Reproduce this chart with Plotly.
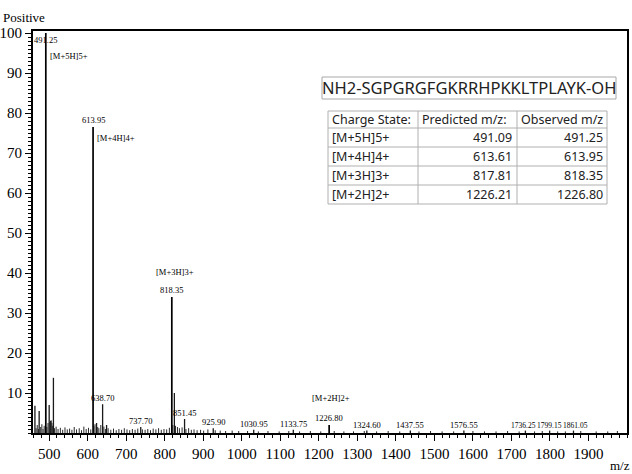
import plotly.graph_objects as go

# ---------------- data ----------------
main_mz = [491.25, 613.95, 818.35, 1226.80]
main_int = [100.0, 76.5, 34.0, 2.0]
ion_names = ["[M+5H]5+", "[M+4H]4+", "[M+3H]3+", "[M+2H]2+"]

minor_mz = [463, 474, 500, 504, 511, 623, 638.70, 649, 737.70, 825, 851.45,
            925.90, 1030.95, 1133.75, 1324.60, 1437.55, 1576.55, 1736.25,
            1799.15, 1861.05]
minor_int = [6.8, 5.5, 7.0, 3.0, 13.8, 2.5, 7.2, 2.0, 1.5, 10.0, 3.5,
             1.2, 0.8, 0.8, 0.6, 0.6, 0.6, 0.6, 0.6, 0.6]
labeled_minor = [638.70, 737.70, 851.45, 925.90, 1030.95, 1133.75, 1324.60,
                 1437.55, 1576.55, 1736.25, 1799.15, 1861.05]

noise_mz = [466, 469, 472, 478, 481, 484, 487, 494, 497, 502,
            505, 507, 509, 514, 518, 523, 529, 535, 541, 547,
            553, 559, 565, 571, 578, 584, 590, 596, 602, 608,
            616, 619, 626, 629, 634, 642, 646, 653, 660, 667,
            674, 681, 688, 695, 702, 709, 716, 723, 730, 742,
            749, 756, 763, 770, 777, 784, 791, 798, 805, 812,
            821, 828, 833, 838, 845, 855, 862, 869, 876, 884,
            893, 901, 912, 931, 944, 958, 975, 992, 1015, 1043,
            1068, 1097, 1122, 1150, 1178, 1205, 1240, 1265, 1290, 1318,
            1350, 1380, 1410, 1460, 1490, 1520, 1550, 1600, 1630, 1660,
            1690, 1720, 1760, 1780, 1820, 1840, 1880, 1920, 1950, 1975]
noise_int = [1.2, 2.0, 1.0, 1.5, 2.2, 1.0, 1.8, 1.5, 2.5, 2.8,
             3.2, 2.5, 1.8, 1.2, 1.6, 1.0, 1.3, 0.8, 1.4, 0.9,
             1.1, 0.8, 1.5, 0.9, 1.2, 0.7, 1.6, 1.0, 1.3, 0.9,
             1.8, 2.2, 1.5, 1.2, 2.0, 1.6, 1.0, 1.2, 0.8, 1.1,
             0.7, 1.0, 0.8, 1.2, 0.9, 0.7, 1.0, 0.8, 1.1, 0.9,
             0.8, 1.0, 0.7, 1.1, 0.9, 1.2, 0.8, 1.0, 0.9, 1.3,
             2.0, 1.8, 1.5, 1.2, 1.4, 1.0, 1.2, 0.8, 0.9, 0.7,
             0.8, 0.6, 0.9, 0.7, 0.6, 0.5, 0.6, 0.5, 0.5, 0.4,
             0.5, 0.4, 0.5, 0.4, 0.5, 0.4, 0.5, 0.4, 0.4, 0.5,
             0.4, 0.5, 0.4, 0.4, 0.5, 0.4, 0.4, 0.5, 0.4, 0.4,
             0.5, 0.4, 0.4, 0.5, 0.4, 0.4, 0.5, 0.4, 0.4, 0.5]

x_ticks = list(range(500, 2000, 100))
y_ticks = list(range(10, 101, 10))

sequence = "NH2-SGPGRGFGKRRHPKKLTPLAYK-OH"
table_header = ["Charge State:", "Predicted m/z:", "Observed m/z"]
predicted_mz = ["491.09", "613.61", "817.81", "1226.21"]
observed_mz = ["491.25", "613.95", "818.35", "1226.80"]

# ---------------- layout constants ----------------
W, H = 632, 474
ML, MR, MT, MB = 33, 5, 31, 41
PW, PH = W - ML - MR, H - MT - MB
SERIF = "Liberation Serif, Times New Roman, serif"
SANS = "Noto Sans, DejaVu Sans, sans-serif"


def px(x):
    return (x - ML) / PW


def py(y):
    return (H - MB - y) / PH


def stems(xs, ys):
    X, Y = [], []
    for x, y in zip(xs, ys):
        X += [x, x, None]
        Y += [0, y, None]
    return X, Y


fig = go.Figure()
nx, ny = stems(noise_mz, noise_int)
fig.add_trace(go.Scatter(x=nx, y=ny, mode="lines", line=dict(color="#2a2a2a", width=1),
                         hoverinfo="skip", showlegend=False))
mx, my = stems(minor_mz, minor_int)
fig.add_trace(go.Scatter(x=mx, y=my, mode="lines", line=dict(color="#1a1a1a", width=1.3),
                         hoverinfo="skip", showlegend=False))
Mx, My = stems(main_mz, main_int)
fig.add_trace(go.Scatter(x=Mx, y=My, mode="lines", line=dict(color="black", width=1.7),
                         hoverinfo="skip", showlegend=False))

annotations = []
lab_font = dict(family=SERIF, size=8.5, color="black")
small_font = dict(family=SERIF, size=7.5, color="black")

# main peak m/z labels
for i, (mz, h) in enumerate(zip(main_mz, main_int)):
    if i == 0:
        annotations.append(dict(x=mz, y=98.2, text=f"{mz:.2f}", showarrow=False,
                                xanchor="center", yanchor="middle", font=lab_font))
    else:
        annotations.append(dict(x=mz, y=h, text=f"{mz:.2f}", showarrow=False,
                                xanchor="center", yanchor="bottom", font=lab_font))

# ion labels
ion_pos = [dict(y=94.2, xanchor="left", xshift=2),
           dict(y=73.8, xanchor="left", xshift=2),
           dict(y=40.3, xanchor="center", xshift=3),
           dict(y=8.8, xanchor="center", xshift=2)]
for mz, name, pos in zip(main_mz, ion_names, ion_pos):
    annotations.append(dict(x=mz, y=pos["y"], text=name, showarrow=False,
                            xanchor=pos["xanchor"], xshift=pos["xshift"],
                            yanchor="middle", font=lab_font))

# minor peak labels (the three crowded ones are slightly spread, as in the reference)
minor_lookup = dict(zip(minor_mz, minor_int))
crowd_shift = {1736.25: -2, 1799.15: 0, 1861.05: 2}
for mz in labeled_minor:
    crowded = mz in crowd_shift
    annotations.append(dict(x=mz, y=minor_lookup[mz], text=f"{mz:.2f}", showarrow=False,
                            xanchor="center", yanchor="bottom",
                            xshift=crowd_shift.get(mz, 0), borderpad=0,
                            font=small_font if crowded else lab_font))

# corner texts
annotations.append(dict(xref="paper", yref="paper", x=px(24), y=py(17), text="Positive",
                        showarrow=False, xanchor="center", yanchor="middle",
                        font=dict(family=SERIF, size=13, color="black")))
annotations.append(dict(xref="paper", yref="paper", x=px(620), y=py(466), text="m/z",
                        showarrow=False, xanchor="center", yanchor="middle",
                        font=dict(family=SERIF, size=13, color="black")))

# sequence box
shapes = []
shapes.append(dict(type="rect", xref="paper", yref="paper", x0=px(322), x1=px(616),
                   y0=py(99), y1=py(77), line=dict(color="#a8a8a8", width=1),
                   fillcolor="white", layer="above"))
annotations.append(dict(xref="paper", yref="paper", x=px(469), y=py(88), text=sequence,
                        showarrow=False, xanchor="center", yanchor="middle",
                        font=dict(family=SANS, size=16.5, color="#222")))

# table
col_edges = [328, 418, 517, 607]
row_edges = [111, 128, 147, 166, 185, 204]
grid = dict(color="#b0b0b0", width=1)
shapes.append(dict(type="rect", xref="paper", yref="paper", x0=px(col_edges[0]), x1=px(col_edges[-1]),
                   y0=py(row_edges[-1]), y1=py(row_edges[0]), line=grid, fillcolor="white",
                   layer="above"))
for xe in col_edges[1:-1]:
    shapes.append(dict(type="line", xref="paper", yref="paper", x0=px(xe), x1=px(xe),
                       y0=py(row_edges[-1]), y1=py(row_edges[0]), line=grid, layer="above"))
for ye in row_edges[1:-1]:
    shapes.append(dict(type="line", xref="paper", yref="paper", x0=px(col_edges[0]),
                       x1=px(col_edges[-1]), y0=py(ye), y1=py(ye), line=grid, layer="above"))

tfont = dict(family=SANS, size=12.5, color="#222")
for j, txt in enumerate(table_header):
    yc = (row_edges[0] + row_edges[1]) / 2
    annotations.append(dict(xref="paper", yref="paper", x=px(col_edges[j] + 2), y=py(yc),
                            text=txt, showarrow=False, xanchor="left", yanchor="middle", font=tfont))
for i, (cs, pr, ob) in enumerate(zip(ion_names, predicted_mz, observed_mz)):
    yc = (row_edges[i + 1] + row_edges[i + 2]) / 2
    annotations.append(dict(xref="paper", yref="paper", x=px(col_edges[0] + 2), y=py(yc),
                            text=cs, showarrow=False, xanchor="left", yanchor="middle", font=tfont))
    annotations.append(dict(xref="paper", yref="paper", x=px(col_edges[2] - 3), y=py(yc),
                            text=pr, showarrow=False, xanchor="right", yanchor="middle", font=tfont))
    annotations.append(dict(xref="paper", yref="paper", x=px(col_edges[3] - 2), y=py(yc),
                            text=ob, showarrow=False, xanchor="right", yanchor="middle", font=tfont))

tick_font = dict(family=SERIF, size=15, color="black")
fig.update_layout(
    width=W, height=H,
    margin=dict(l=ML, r=MR, t=MT, b=MB, pad=0, autoexpand=False),
    paper_bgcolor="white", plot_bgcolor="white",
    showlegend=False,
    xaxis=dict(range=[458, 2000], tickvals=x_ticks, ticktext=[str(v) for v in x_ticks],
               ticks="outside", ticklen=6, tickwidth=1.2, tickcolor="black",
               minor=dict(dtick=20, tick0=0, ticks="outside", ticklen=3, tickcolor="black", tickwidth=1),
               showline=True, linecolor="black", linewidth=2, mirror=True, automargin=False,
               showgrid=False, zeroline=False, tickfont=tick_font),
    yaxis=dict(range=[0, 100.5], tickvals=y_ticks, ticktext=[str(v) for v in y_ticks],
               ticks="outside", ticklen=6, tickwidth=1.2, tickcolor="black",
               minor=dict(dtick=1, tick0=0, ticks="outside", ticklen=3, tickcolor="black", tickwidth=1),
               showline=True, linecolor="black", linewidth=2, mirror=True, automargin=False,
               showgrid=False, zeroline=False, tickfont=tick_font),
    annotations=annotations,
    shapes=shapes,
)

fig.write_html("out.html")
